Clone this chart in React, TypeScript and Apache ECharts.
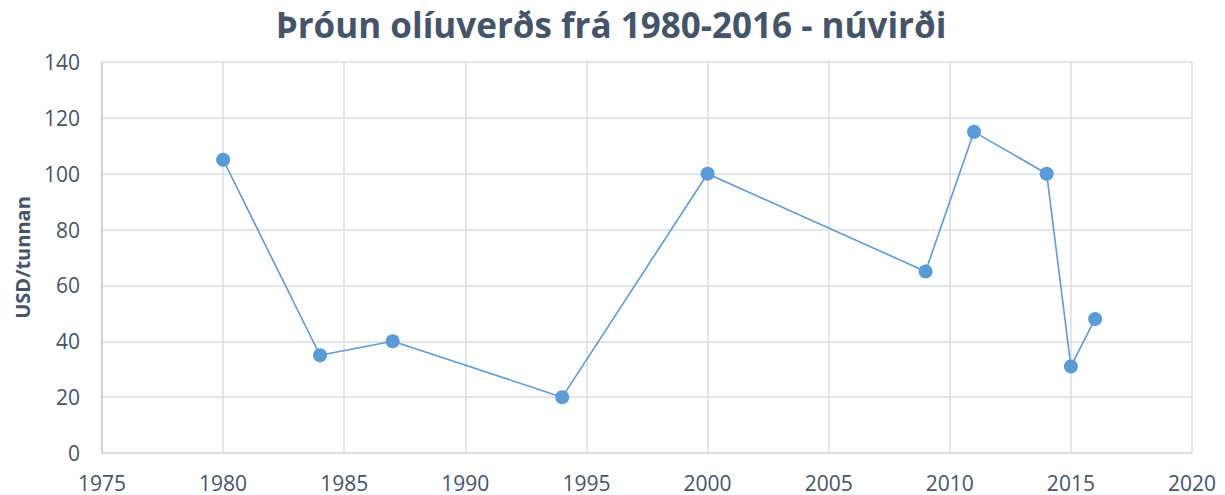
import React, { useEffect, useRef } from "react";
import * as echarts from "echarts";

const years = [1980, 1984, 1987, 1994, 2000, 2009, 2011, 2014, 2015, 2016];
const prices = [105, 35, 40, 20, 100, 65, 115, 100, 31, 48];
const titleText = "Þróun olíuverðs frá 1980-2016 - núvirði";
const yAxisName = "USD/tunnan";

export default function App() {
  const ref = useRef<HTMLDivElement>(null);
  useEffect(() => {
    document.body.style.margin = "0";
    const chart = echarts.init(ref.current!, null, { renderer: "svg" });
    const gridColor = "#D9DDE5";
    const axisColor = "#C5CDDA";
    const textColor = "#44546A";
    const font = "'Open Sans', sans-serif";
    chart.setOption({
      animation: false,
      backgroundColor: "#ffffff",
      title: {
        text: titleText,
        left: 606,
        textAlign: "center",
        top: 2,
        textStyle: { color: textColor, fontSize: 35, fontWeight: "bold", fontFamily: font },
      },
      grid: { left: 102, right: 33, top: 62, bottom: 42, outerBoundsMode: "none", containLabel: false },
      xAxis: {
        type: "value",
        min: 1975,
        max: 2020,
        interval: 5,
        axisLine: { show: true, lineStyle: { color: gridColor, width: 1.5 } },
        axisTick: { show: false },
        splitLine: { show: true, lineStyle: { color: gridColor, width: 1.5 } },
        axisLabel: {
          color: textColor,
          fontSize: 21,
          fontFamily: font,
          margin: 19,
          formatter: (v: number) => String(v),
        },
      },
      yAxis: {
        type: "value",
        min: 0,
        max: 140,
        interval: 20,
        name: yAxisName,
        nameLocation: "middle",
        nameGap: 70,
        nameRotate: 90,
        nameTextStyle: { color: textColor, fontSize: 20, fontWeight: "bold", fontFamily: font },
        axisLine: { show: true, lineStyle: { color: axisColor, width: 1.5 } },
        axisTick: { show: false },
        splitLine: { show: true, lineStyle: { color: gridColor, width: 1.5 } },
        axisLabel: { color: textColor, fontSize: 21, fontFamily: font, margin: 22 },
      },
      series: [
        {
          type: "line",
          data: years.map((y, i) => [y, prices[i]]),
          symbol: "circle",
          symbolSize: 14,
          lineStyle: { color: "#5B9BD5", width: 1.6 },
          itemStyle: { color: "#5B9BD5" },
        },
      ],
    });
    return () => chart.dispose();
  }, []);
  return <div ref={ref} style={{ width: 1225, height: 495 }} />;
}
